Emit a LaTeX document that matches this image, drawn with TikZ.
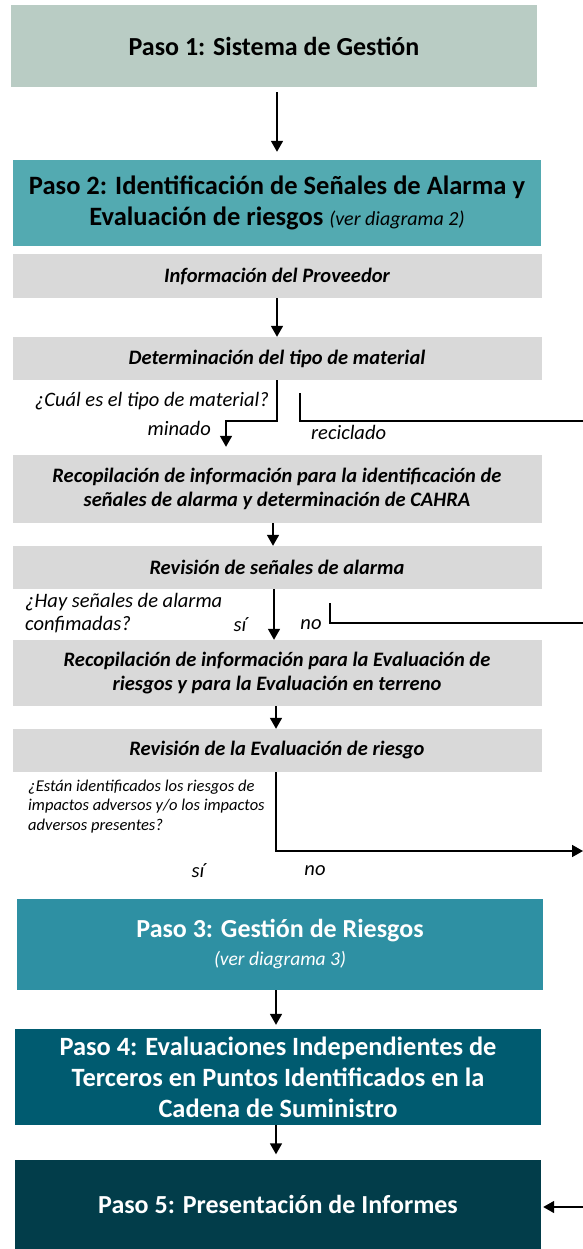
\documentclass[tikz,border=0pt]{standalone}
\usepackage{fontspec}
\setmainfont{Carlito}
\usetikzlibrary{arrows.meta,calc}
\definecolor{cone}{HTML}{B9CCC4}
\definecolor{ctwo}{HTML}{53AAB1}
\definecolor{cgrey}{HTML}{D9D9D9}
\definecolor{cthree}{HTML}{2E90A3}
\definecolor{cfour}{HTML}{005B70}
\definecolor{cfive}{HTML}{023D4A}
\begin{document}
\begin{tikzpicture}[x=1pt,y=-1pt,
  stepbox/.style={rectangle, inner sep=0pt, align=center, minimum width=528pt},
  greybox/.style={stepbox, fill=cgrey, minimum width=529pt,
    font=\bfseries\itshape\fontsize{20.5}{24}\selectfont},
  qtext/.style={inner sep=0pt, font=\itshape\fontsize{20.5}{23}\selectfont},
  conn/.style={line width=1.6pt},
  arr/.style={conn, -{Triangle[width=12pt,length=11pt]}}]
\useasboundingbox (0,0) rectangle (583,1249);

% step boxes
\node[stepbox, fill=cone, minimum width=526pt, minimum height=82pt,
  font=\bfseries\fontsize{26}{30}\selectfont] (p1) at (274,46) {Paso 1: Sistema de Gestión};
\node[stepbox, fill=ctwo, minimum height=86pt,
  font=\bfseries\fontsize{26.5}{31}\selectfont] (p2) at (277,203)
  {Paso 2: Identificación de Señales de Alarma y\\Evaluación de riesgos {\mdseries\itshape\fontsize{20}{31}\selectfont (ver diagrama 2)}};

\node[greybox, minimum height=44pt] (g1) at (277,276) {Información del Proveedor};
\node[greybox, minimum height=43pt] (g2) at (277,358.5) {Determinación del tipo de material};
\node[greybox, minimum height=68pt] (g3) at (277,489)
  {Recopilación de información para la identificación de\\señales de alarma y determinación de CAHRA};
\node[greybox, minimum height=43pt] (g4) at (277,567.5) {Revisión de señales de alarma};
\node[greybox, minimum height=66pt] (g5) at (277,673)
  {Recopilación de información para la Evaluación de\\riesgos y para la Evaluación en terreno};
\node[greybox, minimum height=43pt] (g6) at (277,750.5) {Revisión de la Evaluación de riesgo};

\node[stepbox, fill=cthree, text=white, minimum width=526pt, minimum height=91pt,
  font=\bfseries\fontsize{26}{28}\selectfont] (p3) at (280,944.5)
  {Paso 3: Gestión de Riesgos\\{\mdseries\itshape\fontsize{19.5}{28}\selectfont (ver diagrama 3)}};
\node[stepbox, fill=cfour, text=white, minimum width=526pt, minimum height=96pt,
  font=\bfseries\fontsize{26.4}{31}\selectfont] (p4) at (278,1077)
  {Paso 4: Evaluaciones Independientes de\\Terceros en Puntos Identificados en la\\Cadena de Suministro};
\node[stepbox, fill=cfive, text=white, minimum width=526pt, minimum height=90pt,
  font=\bfseries\fontsize{26}{30}\selectfont] (p5) at (278,1204.5) {Paso 5: Presentación de Informes};

% labels
\node[qtext, anchor=east] (q1) at (269,401) {¿Cuál es el tipo de material?};
\node[qtext, anchor=east] (lmin) at (211,428) {minado};
\node[qtext, anchor=west] (lrec) at (311,432) {reciclado};
\node[qtext, anchor=west, align=left] (q2) at (25,613.5) {¿Hay señales de alarma\\confimadas?};
\node[qtext] (lsi1) at (240,625) {sí};
\node[qtext] (lno1) at (311,625) {no};
\node[qtext, anchor=west, align=left, font=\itshape\fontsize{16.5}{19.5}\selectfont] (q3) at (28,806.5)
  {¿Están identificados los riesgos de\\impactos adversos y/o los impactos\\adversos presentes?};
\node[qtext] (lsi2) at (198,871) {sí};
\node[qtext] (lno2) at (315,871) {no};

% coordinates
\coordinate (m1) at (226,421);
\coordinate (r0) at (300,393);
\coordinate (r1) at (583,421);
\coordinate (n0) at (330,603);
\coordinate (n1) at (583,623);
\coordinate (e3) at (583,851);
\coordinate (e5) at (583,1207);

% connectors
\draw[arr, shorten <=5pt, shorten >=8pt] (p1.south -| p2.north) -- (p2.north);
\draw[arr] (g1.south) -- (g2.north);
\draw[arr, shorten >=8pt] (g2.south) |- (m1) -- (m1 |- g3.north);
\draw[conn] (r0) |- (r1);
\draw[arr] ($(g3.south)+(-4,0)$) -- ($(g4.north)+(-4,0)$);
\draw[arr] ($(g4.south)+(-3,0)$) -- ($(g5.north)+(-3,0)$);
\draw[conn] (n0) |- (n1);
\draw[arr] ($(g5.south)+(-1,0)$) -- ($(g6.north)+(-1,0)$);
\draw[arr] ($(g6.south)+(-1,0)$) |- (e3);
\draw[arr, shorten >=4pt] ($(p3.south)+(-4,0)$) -- ($(p4.north)+(-2,0)$);
\draw[arr, shorten >=5pt] ($(p4.south)+(-2,0)$) -- ($(p5.north)+(-2,0)$);
\draw[arr, shorten >=2pt] (e5) -- (p5.east |- e5);
\end{tikzpicture}
\end{document}
